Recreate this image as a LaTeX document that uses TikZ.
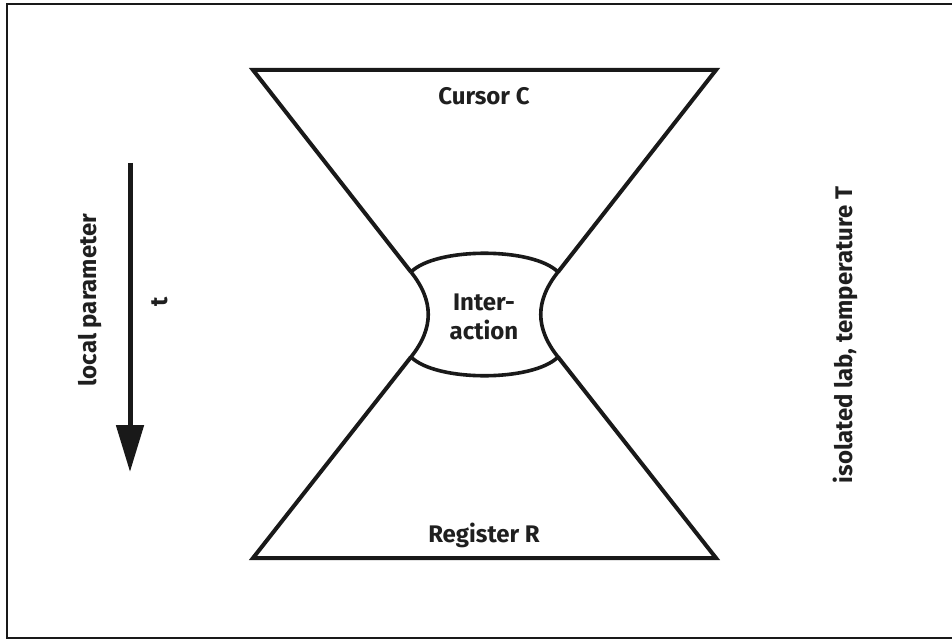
\documentclass[tikz,border=0pt]{standalone}
\usepackage{fontspec}
\setmainfont{Fira Sans}
\usetikzlibrary{arrows.meta}
\begin{document}
\begin{tikzpicture}[x=1pt,y=-1pt,
  outline/.style={line width=4pt,line join=miter,black!90},
  lbl/.style={font=\bfseries\fontsize{24}{29}\selectfont,text=black!88,inner sep=0pt,align=center}]
\useasboundingbox (0,0) rectangle (952,639);
% frame
\draw[line width=2.5pt,black!90] (7,4) rectangle (970,638);
% junction points
\coordinate (TL) at (411,272);
\coordinate (TR) at (558,272);
\coordinate (BL) at (411,357);
\coordinate (BR) at (558,357);
% top funnel
\draw[outline] (TL) -- (253,70) -- (716,70) -- (TR);
% bottom funnel
\draw[outline] (BL) -- (253,558) -- (716,558) -- (BR);
% interaction region
\draw[outline,line width=3.6pt] (TL) .. controls (436,247) and (533,247) .. (TR)
  .. controls (535,301) and (535,328) .. (BR)
  .. controls (533,382) and (436,382) .. (BL)
  .. controls (434,328) and (434,301) .. (TL);
% labels
\node[lbl] (cursor) at (484,96) {Cursor C};
\node[lbl] (register) at (484,535) {Register R};
\node[lbl] (inter) at (484,317) {Inter-\\action};
\node[lbl,rotate=90] (lp) at (90,300) {local parameter};
\node[lbl,rotate=90] (tt) at (160,302) {t};
\node[lbl,rotate=90] (lab) at (845,335) {isolated lab, temperature T};
% arrow
\coordinate (a0) at (130,163);
\coordinate (a1) at (130,472);
\draw[line width=5pt,black!90,-{Triangle[length=47pt,width=27pt]}] (a0) -- (a1);
\end{tikzpicture}
\end{document}
